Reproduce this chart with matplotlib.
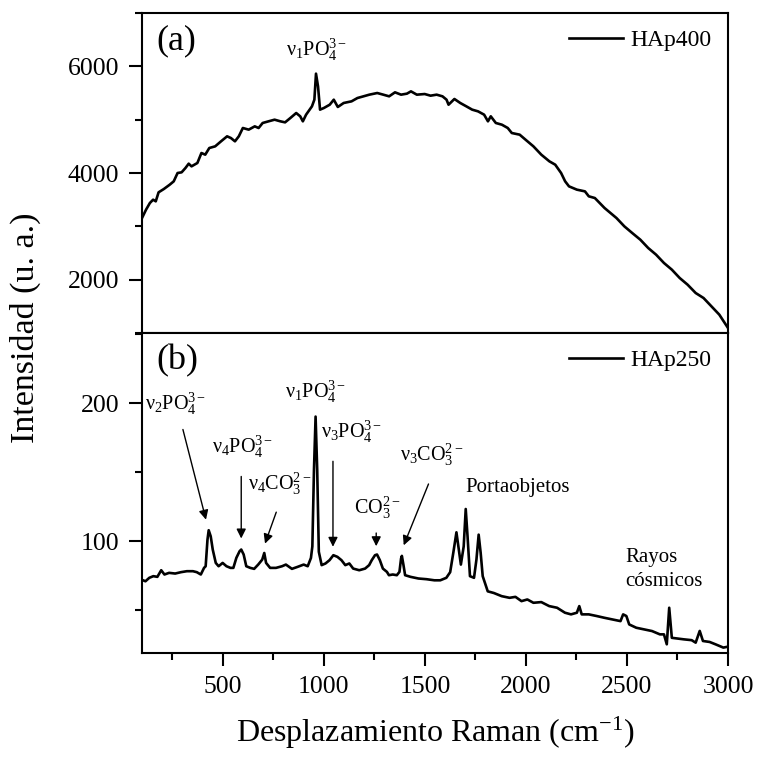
import numpy as np
import matplotlib
matplotlib.use('Agg')
import matplotlib.pyplot as plt
from matplotlib.ticker import MultipleLocator

plt.rcParams['font.family'] = ['Liberation Serif', 'DejaVu Serif']
plt.rcParams['mathtext.fontset'] = 'custom'
plt.rcParams['mathtext.rm'] = 'Liberation Serif'
plt.rcParams['mathtext.it'] = 'Liberation Serif:italic'
plt.rcParams['mathtext.default'] = 'regular'

# HAp400 (panel a)
x400 = [100, 120, 139, 155, 168, 182, 208, 237, 257, 276, 296, 315, 331, 345, 374, 394, 413,
        433, 462, 491, 521, 540, 560, 579, 599, 628, 658, 677, 697, 726, 756, 785, 808, 834,
        863, 883, 896, 912, 941, 953, 961, 971, 981, 1000, 1029, 1049, 1069, 1098, 1137,
        1166, 1196, 1225, 1264, 1294, 1323, 1352, 1382, 1411, 1431, 1460, 1499, 1528, 1558,
        1587, 1607, 1617, 1646, 1675, 1705, 1734, 1763, 1793, 1812, 1826, 1851, 1881, 1910,
        1930, 1969, 1998, 2037, 2076, 2116, 2145, 2174, 2194, 2213, 2252, 2292, 2311, 2341,
        2389, 2448, 2487, 2526, 2566, 2605, 2644, 2683, 2722, 2761, 2800, 2840, 2879, 2918,
        2957, 3000]
y400 = [3156, 3313, 3438, 3500, 3469, 3638, 3700, 3781, 3844, 4000, 4013, 4094, 4175, 4125,
        4188, 4375, 4344, 4469, 4500, 4594, 4688, 4656, 4594, 4688, 4844, 4813, 4875, 4844,
        4938, 4969, 5000, 4969, 4950, 5031, 5125, 5063, 4969, 5094, 5250, 5375, 5863, 5625,
        5188, 5219, 5281, 5375, 5238, 5313, 5344, 5406, 5438, 5469, 5500, 5469, 5438, 5513,
        5469, 5488, 5531, 5469, 5481, 5450, 5469, 5438, 5375, 5281, 5388, 5313, 5250, 5188,
        5156, 5094, 4969, 5063, 4938, 4906, 4844, 4750, 4719, 4625, 4500, 4344, 4219, 4156,
        4000, 3844, 3750, 3688, 3656, 3563, 3531, 3344, 3156, 3000, 2875, 2750, 2594, 2469,
        2313, 2188, 2031, 1906, 1750, 1656, 1500, 1344, 1094]

# HAp250 (panel b)
x250 = [97, 117, 136, 156, 176, 195, 211, 234, 264, 293, 322, 352, 371, 391, 407, 415, 424,
        430, 440, 450, 465, 479, 499, 518, 538, 552, 567, 583, 591, 603, 616, 636, 655, 675,
        695, 705, 714, 734, 763, 793, 812, 842, 871, 900, 920, 936, 943, 951, 959, 967, 975,
        989, 1008, 1028, 1047, 1067, 1087, 1106, 1126, 1145, 1175, 1204, 1224, 1237, 1253,
        1263, 1277, 1292, 1312, 1322, 1341, 1361, 1374, 1382, 1386, 1394, 1402, 1429, 1468,
        1508, 1547, 1576, 1606, 1625, 1641, 1656, 1668, 1678, 1692, 1702, 1711, 1723, 1743,
        1755, 1766, 1776, 1786, 1802, 1811, 1841, 1880, 1919, 1948, 1978, 2007, 2037, 2076,
        2115, 2154, 2193, 2223, 2252, 2264, 2276, 2311, 2350, 2389, 2428, 2468, 2481, 2497,
        2511, 2546, 2585, 2624, 2663, 2683, 2697, 2709, 2722, 2781, 2820, 2840, 2860, 2876,
        2909, 2938, 2977, 3000]
y250 = [72.2, 71.0, 73.5, 74.7, 74.2, 79.0, 75.9, 77.1, 76.6, 77.6, 78.3, 78.3, 77.6, 75.9,
        80.7, 81.9, 101.2, 108.0, 103.6, 94.0, 84.3, 81.9, 84.3, 81.9, 80.7, 80.7, 88.0, 92.8,
        94.0, 90.4, 81.9, 80.7, 80.0, 83.1, 86.7, 91.5, 84.3, 80.7, 80.7, 81.9, 83.1, 80.0,
        81.5, 83.1, 81.9, 87.9, 96.3, 151.7, 190.4, 151.7, 92.4, 82.7, 83.9, 86.3, 89.9, 88.7,
        86.3, 82.7, 83.9, 80.2, 79.0, 80.2, 82.7, 86.3, 89.9, 90.4, 86.3, 80.2, 77.8, 75.4,
        75.9, 75.4, 77.8, 87.5, 89.4, 82.7, 75.4, 74.2, 73.0, 72.5, 71.7, 71.7, 73.5, 77.6,
        92.1, 106.5, 94.0, 83.1, 96.3, 123.4, 103.6, 74.7, 73.5, 86.7, 104.8, 91.5, 74.7,
        67.5, 63.7, 62.5, 60.2, 59.0, 59.7, 56.6, 57.8, 55.4, 55.9, 53.0, 51.8, 48.2, 47.0,
        48.2, 53.0, 47.0, 47.0, 45.8, 44.5, 43.3, 42.1, 47.0, 45.8, 39.7, 37.3, 36.1, 34.9,
        32.5, 32.5, 25.3, 51.8, 30.0, 28.9, 28.3, 26.5, 35.0, 27.7, 27.0, 25.3, 22.9, 23.6]

# etiquetas de bandas: texto, posicion del texto, inicio y fin de flecha
band_labels = ['ν$_2$PO$_4^{3-}$', 'ν$_4$PO$_4^{3-}$', 'ν$_4$CO$_3^{2-}$', 'ν$_1$PO$_4^{3-}$',
               'ν$_3$PO$_4^{3-}$', 'CO$_3^{2-}$', 'ν$_3$CO$_3^{2-}$']
label_x = [268, 597, 783, 959, 1135, 1263, 1531]
label_y = [199.5, 168.7, 141.7, 208.4, 179.5, 124, 162.6]
arrow_from = [(299, 183), (591, 149), (769, 123), None, (1045, 160), (1259, 108), (1523, 143.4)]
arrow_to = [(420, 113.7), (591, 100), (704, 96.4), None, (1045, 94), (1259, 94.4), (1390, 95.2)]

fig, (ax1, ax2) = plt.subplots(2, 1, sharex=True, figsize=(7.57, 7.57), dpi=100)
fig.subplots_adjust(left=0.1876, right=0.9617, top=0.9828, bottom=0.1374, hspace=0)

lw = 1.9
ax1.plot(x400, y400, c='k', lw=lw, label='HAp400')
ax2.plot(x250, y250, c='k', lw=lw, label='HAp250')

ax1.set_xlim(100, 3000)
ax1.set_ylim(1000, 7000)
ax2.set_ylim(19, 251)

ax1.yaxis.set_major_locator(MultipleLocator(2000))
ax1.yaxis.set_minor_locator(MultipleLocator(1000))
ax2.yaxis.set_major_locator(MultipleLocator(100))
ax2.yaxis.set_minor_locator(MultipleLocator(50))
ax2.xaxis.set_major_locator(MultipleLocator(500))
ax2.xaxis.set_minor_locator(MultipleLocator(250))

for ax in (ax1, ax2):
    for s in ax.spines.values():
        s.set_linewidth(1.5)
    ax.tick_params(which='major', direction='out', length=9.5, width=1.5, labelsize=18.5, pad=7)
    ax.tick_params(which='minor', direction='out', length=4.7, width=1.5)
    ax.tick_params(which='both', top=False, right=False)
ax1.tick_params(which='both', bottom=False, labelbottom=False)

ax1.legend(loc='upper right', frameon=False, fontsize=17, handlelength=2.3,
           handletextpad=0.3, borderaxespad=0.3)
ax2.legend(loc='upper right', frameon=False, fontsize=17, handlelength=2.3,
           handletextpad=0.3, borderaxespad=0.3)

ax1.text(0.024, 0.965, '(a)', transform=ax1.transAxes, fontsize=26, va='top', ha='left')
ax2.text(0.024, 0.965, '(b)', transform=ax2.transAxes, fontsize=26, va='top', ha='left')

ax1.text(965, 6312, 'ν$_1$PO$_4^{3-}$', fontsize=14.5, ha='center', va='center')

for i in range(len(band_labels)):
    ax2.text(label_x[i], label_y[i], band_labels[i], fontsize=14.5, ha='center', va='center')
    if arrow_from[i] is not None:
        ax2.annotate('', xy=arrow_to[i], xytext=arrow_from[i],
                     arrowprops=dict(arrowstyle='-|>', color='k', lw=1.0, mutation_scale=14))

ax2.text(1960, 139, 'Portaobjetos', fontsize=15, ha='center', va='center')
ax2.text(2685, 79.5, 'Rayos\ncósmicos', fontsize=15, ha='center', va='center',
         multialignment='left', linespacing=1.3)

ax2.set_xlabel('Desplazamiento Raman (cm$^{-1}$)', fontsize=23, labelpad=12)
fig.text(0.034, 0.567, 'Intensidad (u. a.)', fontsize=24.5, rotation=90, ha='center', va='center')

plt.savefig('out.png', dpi=100)
